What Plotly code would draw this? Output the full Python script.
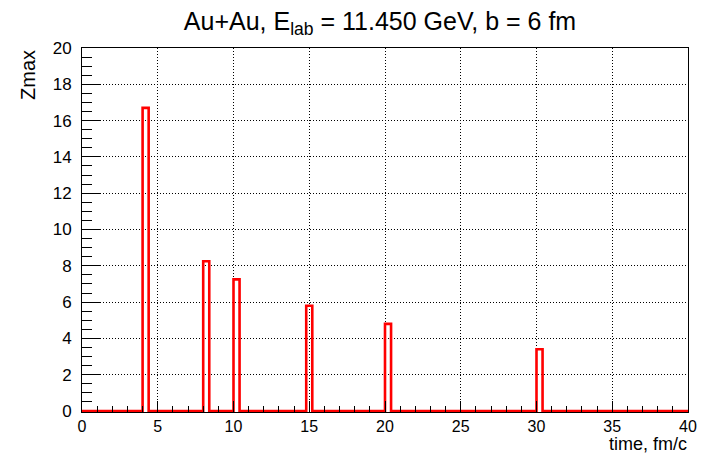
import plotly.graph_objects as go

# Histogram binning: 100 bins over 0..40 fm/c
n_bins = 100
t_min, t_max = 0.0, 40.0

# Filled bins (lower edge of bin, Zmax value)
bin_starts = [4.0, 8.0, 10.0, 14.8, 20.0, 30.0]
zmax_values = [16.7, 8.25, 7.25, 5.8, 4.8, 3.4]

title_text = "Au+Au, E<sub>lab</sub> = 11.450 GeV, b = 6 fm"
x_title = "time, fm/c"
y_title = "Zmax"

# Build bin contents and edges for the step outline
width = (t_max - t_min) / n_bins
edges = [t_min + i * width for i in range(n_bins + 1)]
contents = [0.0] * n_bins
for start, val in zip(bin_starts, zmax_values):
    idx = int(round((start - t_min) / width))
    contents[idx] = val
step_y = contents + [contents[-1]]

FONT = "Liberation Sans, Arial, Helvetica, sans-serif"

fig = go.Figure()
fig.add_trace(go.Scatter(
    x=edges, y=step_y, mode="lines",
    line=dict(color="#ff0000", width=2.6, shape="hv"),
    hoverinfo="skip", showlegend=False,
))

fig.update_layout(
    width=710, height=454,
    margin=dict(l=82, r=22, t=48, b=42, pad=0),
    paper_bgcolor="white", plot_bgcolor="white",
    font=dict(family=FONT, size=16, color="black"),
    title=dict(text=title_text, x=380 / 710, xanchor="center",
               y=1 - 21 / 454, yanchor="middle", yref="container",
               font=dict(family=FONT, size=25, color="black")),
    showlegend=False,
)

fig.update_xaxes(
    range=[t_min, t_max], tickmode="linear", tick0=0, dtick=5,
    ticks="inside", ticklen=11, tickcolor="black", tickwidth=1,
    minor=dict(dtick=1, ticks="inside", ticklen=6, tickcolor="black",
               showgrid=False),
    showgrid=True, gridcolor="black", gridwidth=1, griddash="1px,2px",
    showline=True, linecolor="black", linewidth=1, mirror=True,
    zeroline=False, ticklabelstandoff=0,
    tickfont=dict(family=FONT, size=16),
)
fig.update_yaxes(
    range=[-0.055, 20], tickmode="linear", tick0=0, dtick=2,
    ticks="inside", ticklen=18, tickcolor="black", tickwidth=1,
    minor=dict(dtick=0.5, ticks="inside", ticklen=10, tickcolor="black",
               showgrid=False),
    showgrid=True, gridcolor="black", gridwidth=1, griddash="1px,2px",
    showline=True, linecolor="black", linewidth=1, mirror=True,
    zeroline=False, ticklabelstandoff=6,
    tickfont=dict(family=FONT, size=17),
)

# Axis titles placed at the axis ends
fig.add_annotation(text=x_title, xref="paper", yref="paper",
                   x=1, y=-32 / 364, xanchor="right", yanchor="middle",
                   showarrow=False, borderpad=0,
                   font=dict(family=FONT, size=18))
fig.add_annotation(text=y_title, xref="paper", yref="paper",
                   x=-54 / 606, y=1, xanchor="center", yanchor="top",
                   textangle=-90, showarrow=False,
                   font=dict(family=FONT, size=20))

fig.write_html("out.html")
